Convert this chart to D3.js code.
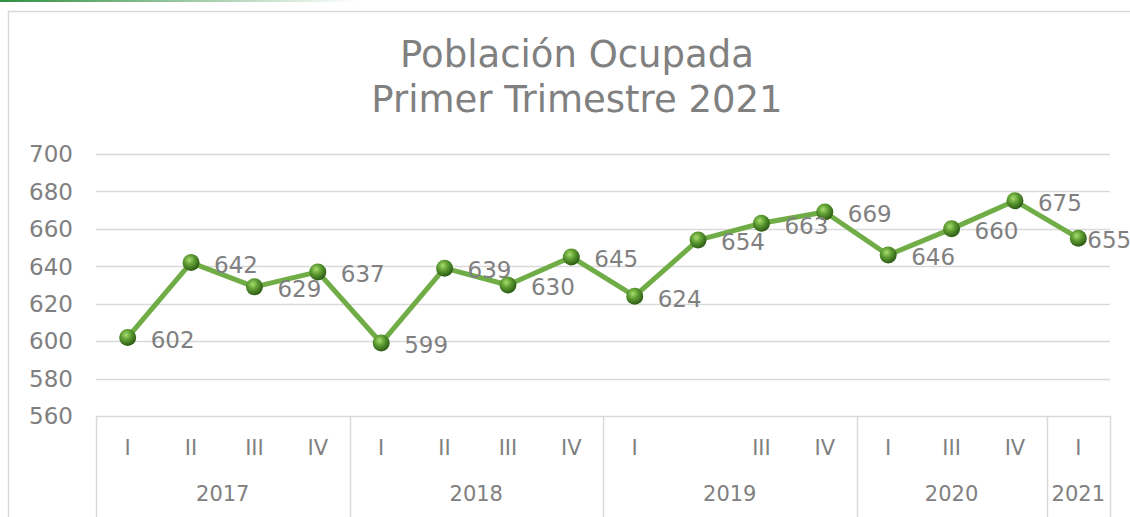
<!DOCTYPE html>
<html>
<head>
<meta charset="utf-8">
<script src="https://cdn.jsdelivr.net/npm/d3@7"></script>
<style>
  body { margin: 0; background: #fff; }
  svg { display: block; font-family: "DejaVu Sans", sans-serif; }
</style>
</head>
<body>
<div id="chart"></div>
<script>
// data
const quarters = ['I', 'II', 'III', 'IV', 'I', 'II', 'III', 'IV', 'I', '', 'III', 'IV', 'I', 'III', 'IV', 'I'];
const years = ['2017', '2017', '2017', '2017', '2018', '2018', '2018', '2018',
               '2019', '2019', '2019', '2019', '2020', '2020', '2020', '2021'];
const values = [602, 642, 629, 637, 599, 639, 630, 645, 624, 654, 663, 669, 646, 660, 675, 655];
const yTicks = [560, 580, 600, 620, 640, 660, 680, 700];
const titleLines = ['Población Ocupada', 'Primer Trimestre 2021'];

const W = 1130, H = 517;
const margin = { left: 96, right: 20, top: 154, bottom: 101 };
const textColor = '#808080';
const gridColor = '#d9d9d9';
const lineColor = '#70ad47';

const svg = d3.select('#chart')
    .append('svg')
    .attr('width', W)
    .attr('height', H);

const defs = svg.append('defs');

// fading green strip along the top
const topGrad = defs.append('linearGradient').attr('id', 'topline');
topGrad.append('stop').attr('offset', '0%').attr('stop-color', '#2f8f3f');
topGrad.append('stop').attr('offset', '100%').attr('stop-color', '#2f8f3f').attr('stop-opacity', 0);
svg.append('rect')
    .attr('x', 0).attr('y', 0)
    .attr('width', 360).attr('height', 2)
    .attr('fill', 'url(#topline)');

// sphere look for markers
const ball = defs.append('radialGradient')
    .attr('id', 'ball')
    .attr('cx', '40%').attr('cy', '35%').attr('r', '65%');
ball.append('stop').attr('offset', '0%').attr('stop-color', '#a8dc6e');
ball.append('stop').attr('offset', '45%').attr('stop-color', '#5f9e33');
ball.append('stop').attr('offset', '100%').attr('stop-color', '#2c5a14');

// chart frame
svg.append('rect')
    .attr('x', 8.5).attr('y', 11.5)
    .attr('width', W + 10).attr('height', H + 10)
    .attr('fill', 'none')
    .attr('stroke', gridColor)
    .attr('stroke-width', 1.5);

// title
svg.append('g')
    .selectAll('text')
    .data(titleLines)
    .join('text')
    .attr('x', 577)
    .attr('y', (d, i) => 67 + i * 45)
    .attr('text-anchor', 'middle')
    .attr('fill', textColor)
    .style('font-size', '37px')
    .text(d => d);

const x = d3.scaleBand()
    .domain(d3.range(values.length))
    .range([margin.left, W - margin.right]);

const y = d3.scaleLinear()
    .domain([560, 700])
    .range([H - margin.bottom, margin.top]);

// gridlines + y labels
svg.append('g')
    .selectAll('line')
    .data(yTicks)
    .join('line')
    .attr('x1', margin.left)
    .attr('x2', W - margin.right)
    .attr('y1', d => Math.round(y(d)) + 0.5)
    .attr('y2', d => Math.round(y(d)) + 0.5)
    .attr('stroke', gridColor)
    .attr('stroke-width', 1.5);

svg.append('g')
    .selectAll('text')
    .data(yTicks)
    .join('text')
    .attr('x', 73)
    .attr('y', d => y(d))
    .attr('dy', '0.36em')
    .attr('text-anchor', 'end')
    .attr('fill', textColor)
    .style('font-size', '23px')
    .text(d => d);

// two-level category axis
const axisTop = y(560);
const xAxis = svg.append('g');

xAxis.selectAll('text.q')
    .data(quarters)
    .join('text')
    .classed('q', true)
    .attr('x', (d, i) => x(i) + x.bandwidth() / 2)
    .attr('y', 447)
    .attr('dy', '0.36em')
    .attr('text-anchor', 'middle')
    .attr('fill', textColor)
    .style('font-size', '21px')
    .text(d => d);

const groups = d3.groups(years.map((yr, i) => ({ yr, i })), d => d.yr)
    .map(([yr, items]) => ({ yr, first: items[0].i, last: items[items.length - 1].i }));

xAxis.selectAll('text.yr')
    .data(groups)
    .join('text')
    .classed('yr', true)
    .attr('x', d => (x(d.first) + x(d.last) + x.bandwidth()) / 2)
    .attr('y', 493)
    .attr('dy', '0.36em')
    .attr('text-anchor', 'middle')
    .attr('fill', textColor)
    .style('font-size', '21px')
    .text(d => d.yr);

const seps = [x(0)].concat(groups.map(d => x(d.last) + x.bandwidth()));
xAxis.selectAll('line.sep')
    .data(seps)
    .join('line')
    .classed('sep', true)
    .attr('x1', d => Math.round(d) + 0.5)
    .attr('x2', d => Math.round(d) + 0.5)
    .attr('y1', axisTop)
    .attr('y2', H)
    .attr('stroke', gridColor)
    .attr('stroke-width', 1.5);

// series line
const line = d3.line()
    .x((d, i) => x(i) + x.bandwidth() / 2)
    .y(d => y(d));

svg.append('path')
    .datum(values)
    .attr('d', line)
    .attr('fill', 'none')
    .attr('stroke', lineColor)
    .attr('stroke-width', 5)
    .attr('stroke-linejoin', 'round');

svg.append('g')
    .selectAll('circle')
    .data(values)
    .join('circle')
    .attr('cx', (d, i) => x(i) + x.bandwidth() / 2)
    .attr('cy', d => y(d))
    .attr('r', 8.5)
    .attr('fill', 'url(#ball)');

// data labels (last one pulled in against the edge, as in the original)
const last = values.length - 1;
svg.append('g')
    .selectAll('text')
    .data(values)
    .join('text')
    .attr('x', (d, i) => x(i) + x.bandwidth() / 2 + (i === last ? 9 : 23))
    .attr('y', d => y(d) + 2)
    .attr('dy', '0.36em')
    .attr('fill', textColor)
    .style('font-size', '23px')
    .text(d => d);
</script>
</body>
</html>
